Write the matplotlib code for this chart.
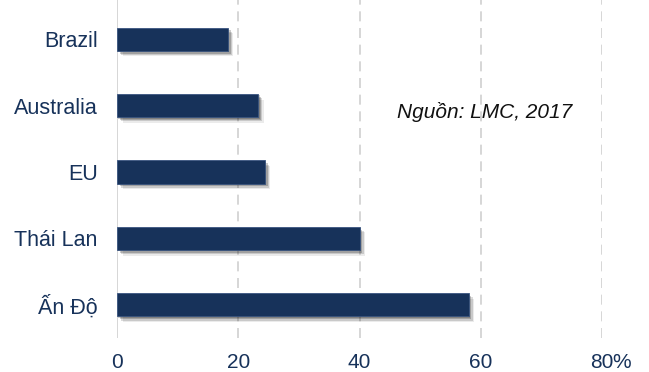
import matplotlib
matplotlib.use("Agg")
import matplotlib.pyplot as plt
import matplotlib.patheffects as pe

plt.rcParams['font.family'] = ['Liberation Sans', 'DejaVu Sans']

# Data (bottom to top)
countries = ["Ấn Độ", "Thái Lan", "EU", "Australia", "Brazil"]
values = [58.0, 40.0, 24.4, 23.3, 18.3]
x_ticks = [0, 20, 40, 60, 80]
x_tick_labels = ["0", "20", "40", "60", "80"]
source_note = "Nguồn: LMC, 2017"

navy = "#17325A"
grid_gray = "#d0d0d0"
label_size = 15.5
tick_size = 15

fig = plt.figure(figsize=(6.49, 3.72), dpi=100)
ax = fig.add_axes([117 / 649, 34 / 372, 485 / 649, 338 / 372])

ypos = list(range(len(countries)))
bars = ax.barh(ypos, values, height=0.35, color=navy, edgecolor="#3a5580",
               linewidth=0.6, zorder=3)
for b in bars:
    b.set_path_effects([
        pe.SimplePatchShadow(offset=(4, -4), shadow_rgbFace="#000000", alpha=0.08),
        pe.SimplePatchShadow(offset=(3, -3), shadow_rgbFace="#000000", alpha=0.14),
        pe.SimplePatchShadow(offset=(2, -2), shadow_rgbFace="#000000", alpha=0.2),
        pe.SimplePatchShadow(offset=(1, -1), shadow_rgbFace="#000000", alpha=0.2),
        pe.Normal(),
    ])

ax.set_xlim(0, 80)
ax.set_ylim(-0.5, 4 + 39 / 66)

# Vertical grid: solid at zero, dashed elsewhere
ax.axvline(0, color=grid_gray, linewidth=1.2, zorder=1)
for t in x_ticks[1:]:
    ax.axvline(t, color=grid_gray, linewidth=1.2, linestyle=(0, (6, 4)), zorder=1)

for s in ax.spines.values():
    s.set_visible(False)

ax.set_yticks(ypos)
ax.set_yticklabels(countries, fontsize=label_size, color=navy)
ax.set_xticks(x_ticks)
ax.set_xticklabels(x_tick_labels, fontsize=tick_size, color=navy)
ax.tick_params(axis="both", length=0)
ax.tick_params(axis="y", pad=14)
ax.tick_params(axis="x", pad=10.5)

# Unit sign after the last tick label
ax.annotate("%", xy=(80, 0), xycoords=("data", "axes fraction"),
            xytext=(7.2, -10.5), textcoords="offset points",
            fontsize=tick_size, color=navy, ha="left", va="top",
            annotation_clip=False)

ax.text(397 / 649, 1 - 112 / 372, source_note, transform=fig.transFigure,
        fontsize=15, style="italic", color="#111111", ha="left", va="center")

fig.savefig("out.png", dpi=100)
